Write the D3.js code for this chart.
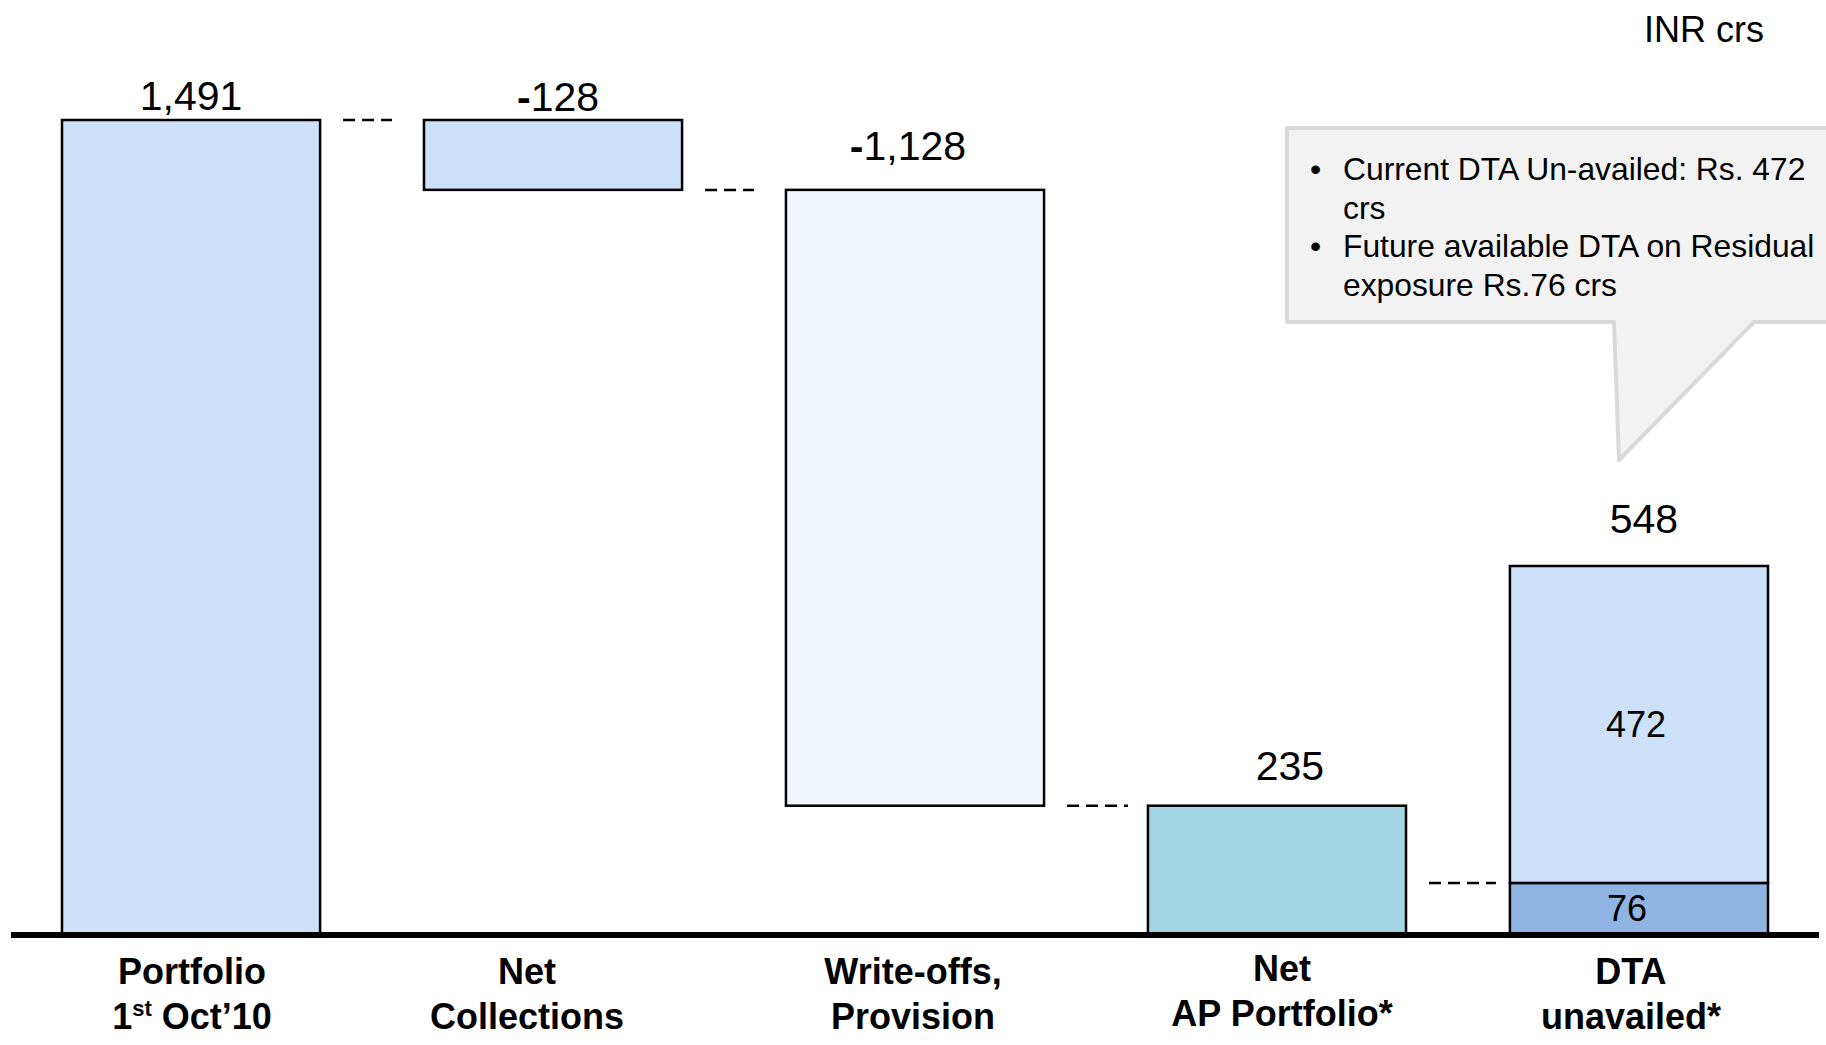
<!DOCTYPE html>
<html>
<head>
<meta charset="utf-8">
<script src="https://cdn.jsdelivr.net/npm/d3@7"></script>
<style>
  html, body { margin: 0; padding: 0; background: #ffffff; }
  svg { display: block; font-family: Arial, "Liberation Sans", sans-serif; }
</style>
</head>
<body>
<svg id="chart" width="1826" height="1045"></svg>
<script>
// ---------------- data ----------------
const categories = ["Portfolio", "Net Collections", "Write-offs", "Net AP Portfolio", "DTA unavailed"];
const categoryLine1 = ["Portfolio", "Net", "Write-offs,", "Net", "DTA"];
const categoryLine2 = ["1|st| Oct\u201910", "Collections", "Provision", "AP Portfolio*", "unavailed*"];
const waterfallValues = [1491, -128, -1128, 235];
const waterfallKinds = ["total", "delta", "delta", "total"];
const valueLabels = ["1,491", "-128", "-1,128", "235", "548"];
const dtaSegments = ["Future available DTA", "Current DTA"];
const dtaValues = [76, 472];
const dtaTotal = 548;
const calloutLines = [
  { bullet: true, text: "Current DTA Un-availed: Rs. 472" },
  { bullet: false, text: "crs" },
  { bullet: true, text: "Future available DTA on Residual" },
  { bullet: false, text: "exposure Rs.76 crs" }
];
const unitLabel = "INR crs";

// ---------------- styles ----------------
const barColors = ["#cce0f8", "#cce0f8", "#f1f6fd", "#a2d4e1"];
const dtaColors = ["#8fb4e3", "#cce0f8"];
const labelGap = [10, 9, 30, 26, 33];
const labelDx = [0, 5, -7, 13, 5];
const catDx = [1, -26, -2, 5, -8];

const svg = d3.select("#chart");
const baseY = 934;

// ---------------- scales ----------------
const x = d3.scaleBand().domain(categories).range([62, 1768]).paddingInner(0.287).paddingOuter(0);
const y = d3.scaleLinear().domain([0, 1491]).range([baseY, 120]);
// The DTA column is plotted on its own scale in the original slide
const yDta = d3.scaleLinear().domain([0, dtaTotal]).range([baseY, 566]);

// compute waterfall
let running = 0;
const wf = waterfallValues.map((v, i) => {
  let lo, hi;
  if (waterfallKinds[i] === "total") { lo = 0; hi = v; running = v; }
  else { const next = running + v; lo = Math.min(running, next); hi = Math.max(running, next); running = next; }
  return { cat: categories[i], lo, hi, value: v, i };
});

// ---------------- callout ----------------
const cPath = d3.path();
cPath.moveTo(1287, 128);
cPath.lineTo(1845, 128);
cPath.lineTo(1845, 322);
cPath.lineTo(1754, 322);
cPath.lineTo(1619, 460);
cPath.lineTo(1614, 322);
cPath.lineTo(1287, 322);
cPath.closePath();
svg.append("path").attr("d", cPath.toString())
  .attr("fill", "#f2f2f2").attr("stroke", "#d9d9d9").attr("stroke-width", 4)
  .attr("stroke-linejoin", "round");

const cg = svg.append("g").attr("font-size", 31.8).attr("fill", "#000");
calloutLines.forEach((ln, i) => {
  const by = 180 + i * 38.5;
  if (ln.bullet) cg.append("text").attr("x", 1310).attr("y", by).text("\u2022");
  cg.append("text").attr("x", 1343).attr("y", by).text(ln.text);
});

// ---------------- unit label ----------------
svg.append("text").attr("x", 1764).attr("y", 42).attr("text-anchor", "end")
  .attr("font-size", 36).text(unitLabel);

// ---------------- waterfall bars ----------------
svg.selectAll("rect.wf").data(wf).enter().append("rect")
  .attr("class", "wf")
  .attr("x", d => x(d.cat))
  .attr("y", d => y(d.hi))
  .attr("width", x.bandwidth())
  .attr("height", d => y(d.lo) - y(d.hi))
  .attr("fill", d => barColors[d.i])
  .attr("stroke", "#000").attr("stroke-width", 2.5);

// ---------------- DTA stacked bar ----------------
let acc = 0;
const dtaStack = dtaValues.map((v, i) => { const s = { lo: acc, hi: acc + v, v, i }; acc += v; return s; });
const dtaCat = categories[4];
svg.selectAll("rect.dta").data(dtaStack).enter().append("rect")
  .attr("class", "dta")
  .attr("x", x(dtaCat))
  .attr("y", d => yDta(d.hi))
  .attr("width", x.bandwidth())
  .attr("height", d => yDta(d.lo) - yDta(d.hi))
  .attr("fill", d => dtaColors[d.i])
  .attr("stroke", "#000").attr("stroke-width", 2.5);

const inDx = [-12, -3];
svg.selectAll("text.dtaLbl").data(dtaStack).enter().append("text")
  .attr("class", "dtaLbl")
  .attr("x", d => x(dtaCat) + x.bandwidth() / 2 + inDx[d.i])
  .attr("y", d => (yDta(d.lo) + yDta(d.hi)) / 2 + 13)
  .attr("text-anchor", "middle").attr("font-size", 36)
  .text(d => d.v);

// ---------------- connectors ----------------
const connY = [y(1491), y(1491 - 128), y(235), yDta(dtaValues[0])];
const connEndPad = [32, 32, 20, 14];
connY.forEach((cy, i) => {
  const x1 = x(categories[i]) + x.bandwidth() + 23;
  const x2 = x(categories[i + 1]) - connEndPad[i];
  svg.append("line").attr("x1", x1).attr("x2", x2).attr("y1", cy).attr("y2", cy)
    .attr("stroke", "#000").attr("stroke-width", 2.5).attr("stroke-dasharray", "12,7");
});

// ---------------- baseline ----------------
svg.append("line").attr("x1", 11).attr("x2", 1819).attr("y1", baseY + 1).attr("y2", baseY + 1)
  .attr("stroke", "#000").attr("stroke-width", 6);

// ---------------- value labels ----------------
const topYs = wf.map(d => y(d.hi)).concat([yDta(dtaTotal)]);
valueLabels.forEach((lbl, i) => {
  const t = svg.append("text")
    .attr("x", x(categories[i]) + x.bandwidth() / 2 + labelDx[i])
    .attr("y", topYs[i] - labelGap[i])
    .attr("text-anchor", "middle").attr("font-size", 41);
  if (lbl.startsWith("-")) {
    t.append("tspan").attr("font-weight", "bold").text("-");
    t.append("tspan").text(lbl.slice(1));
  } else {
    t.text(lbl);
  }
});

// ---------------- category labels ----------------
const catG = svg.append("g").attr("font-size", 36).attr("font-weight", "bold").attr("text-anchor", "middle");
categories.forEach((c, i) => {
  const cx = x(c) + x.bandwidth() / 2 + catDx[i];
  const yOff = i === 3 ? -3 : 0;
  catG.append("text").attr("x", cx).attr("y", 984 + yOff).text(categoryLine1[i]);
  const t2 = catG.append("text").attr("x", cx).attr("y", 1029 + yOff);
  const parts = categoryLine2[i].split("|");
  if (parts.length === 3) {
    t2.append("tspan").text(parts[0]);
    t2.append("tspan").attr("font-size", 22).attr("dy", -13).text(parts[1]);
    t2.append("tspan").attr("dy", 13).text(parts[2]);
  } else {
    t2.text(parts[0]);
  }
});
</script>
</body>
</html>
